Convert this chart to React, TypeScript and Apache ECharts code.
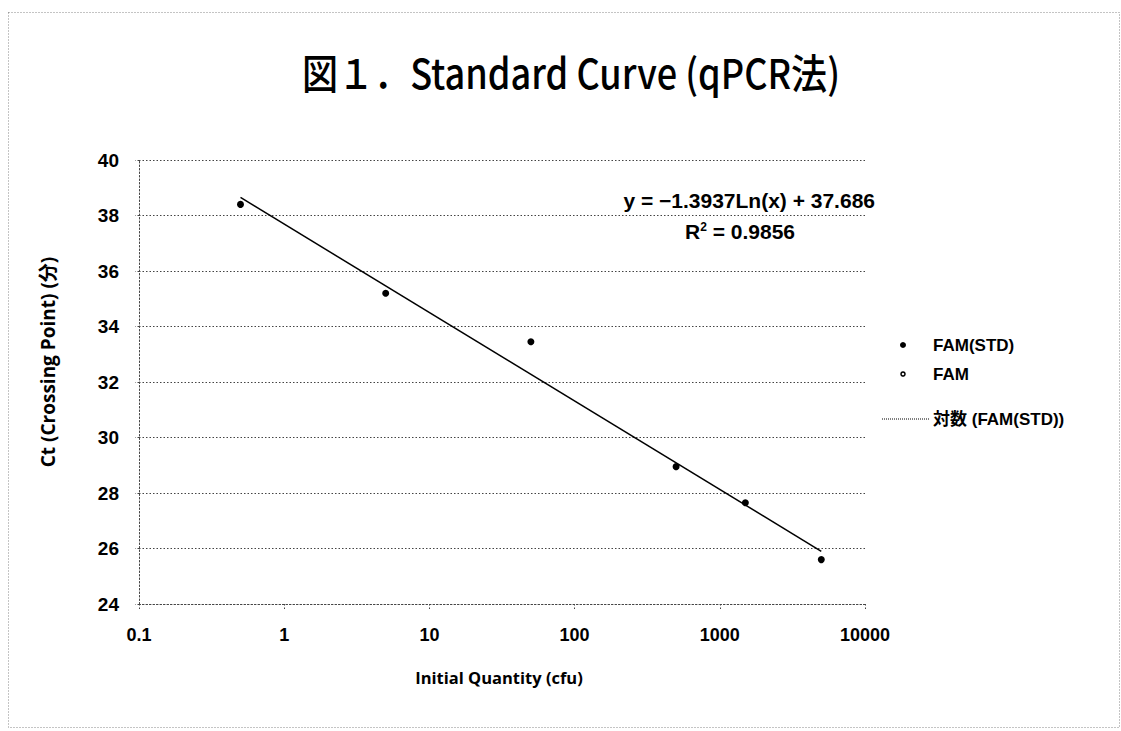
import React, { useEffect, useRef } from "react";
import * as echarts from "echarts";

const xTicks = [0.1, 1, 10, 100, 1000, 10000];
const yTicks = [24, 26, 28, 30, 32, 34, 36, 38, 40];
const stdQuantity = [0.5, 5, 50, 500, 1500, 5000];
const stdCt = [38.4, 35.2, 33.45, 28.95, 27.65, 25.6];
const famQuantity: number[] = [];
const famCt: number[] = [];
const trendQuantity = [0.5, 5000];
const trendCt = [38.65, 25.9];
const titleText = "図１．Standard Curve (qPCR法)";
const xName = "Initial Quantity (cfu)";
const yName = "Ct (Crossing Point) (分)";
const equationText = "y = −1.3937Ln(x) + 37.686";
const r2Value = "0.9856";

const labelFont = "'Liberation Sans', Arial, sans-serif";
const nameFont = "'Open Sans', 'Noto Sans CJK JP', sans-serif";

export default function App() {
  const ref = useRef<HTMLDivElement>(null);
  useEffect(() => {
    if (!ref.current) return;
    const chart = echarts.init(ref.current, null, { renderer: "svg" });
    const dotted = { color: "#444", type: [1.5, 2] as any, width: 1 };
    chart.setOption({
      animation: false,
      backgroundColor: "#fff",
      grid: { left: 139, top: 160, right: 256, bottom: 127, containLabel: false },
      xAxis: {
        type: "log",
        logBase: 10,
        min: xTicks[0],
        max: xTicks[xTicks.length - 1],
        axisLine: { show: true, lineStyle: dotted },
        axisTick: { show: true, length: 6, inside: false, lineStyle: dotted },
        minorTick: { show: false },
        splitLine: { show: false },
        axisLabel: {
          margin: 22,
          fontFamily: labelFont,
          fontWeight: "bold",
          fontSize: 18,
          color: "#000",
          formatter: (v: number) => {
            const found = xTicks.find((t) => Math.abs(t - v) / t < 1e-6);
            return found !== undefined ? String(found) : "";
          },
        },
      },
      yAxis: {
        type: "value",
        min: yTicks[0],
        max: yTicks[yTicks.length - 1],
        interval: 2,
        axisLine: { show: true, lineStyle: dotted },
        axisTick: { show: true, length: 4, lineStyle: dotted },
        splitLine: { show: true, lineStyle: dotted },
        axisLabel: {
          margin: 20,
          fontFamily: labelFont,
          fontWeight: "bold",
          fontSize: 19,
          color: "#000",
        },
      },
      series: [
        {
          name: "FAM(STD)",
          type: "scatter",
          symbol: "circle",
          symbolSize: 7,
          itemStyle: { color: "#000", opacity: 1 },
          data: stdQuantity.map((q, i) => [q, stdCt[i]]),
          z: 3,
        },
        {
          name: "FAM",
          type: "scatter",
          symbol: "emptyCircle",
          symbolSize: 5,
          itemStyle: { color: "#000", opacity: 1 },
          data: famQuantity.map((q, i) => [q, famCt[i]]),
        },
        {
          name: "対数 (FAM(STD))",
          type: "line",
          showSymbol: false,
          symbol: "none",
          lineStyle: { color: "#000", width: 1.5 },
          data: trendQuantity.map((q, i) => [q, trendCt[i]]),
          z: 2,
        },
      ],
      graphic: [
        {
          type: "rect",
          shape: { x: 8.5, y: 12.5, width: 1111, height: 715 },
          style: { fill: "none", stroke: "#888", lineWidth: 1, lineDash: [1, 2] },
          silent: true,
          z: -1,
        },
        {
          type: "text",
          x: 571,
          y: 71,
          scaleX: 0.88,
          style: {
            text: titleText,
            align: "center",
            verticalAlign: "middle",
            font: `500 41px 'Noto Sans CJK JP', sans-serif`,
            fill: "#000",
          },
        },
        {
          type: "text",
          x: 499,
          y: 677,
          style: {
            text: xName,
            align: "center",
            verticalAlign: "middle",
            font: `bold 16.5px ${nameFont}`,
            fill: "#000",
          },
        },
        {
          type: "text",
          x: 48,
          y: 362,
          rotation: Math.PI / 2,
          style: {
            text: yName,
            align: "center",
            verticalAlign: "middle",
            font: `bold 19px ${nameFont}`,
            fill: "#000",
          },
        },
        {
          type: "text",
          x: 875,
          y: 200,
          style: {
            text: equationText,
            align: "right",
            verticalAlign: "middle",
            font: `bold 21px ${labelFont}`,
            fill: "#000",
          },
        },
        {
          type: "text",
          x: 740,
          y: 231,
          style: {
            text: "{a|R}{s|2}{a| = " + r2Value + "}",
            align: "center",
            verticalAlign: "middle",
            rich: {
              a: { font: `bold 21px ${labelFont}`, fill: "#000" },
              s: { font: `bold 12px ${labelFont}`, fill: "#000", verticalAlign: "top", padding: [0, 0, 9, 0] },
            },
          },
        },
        { type: "circle", shape: { cx: 903, cy: 345, r: 3 }, style: { fill: "#000" } },
        {
          type: "text",
          x: 933,
          y: 345,
          style: { text: "FAM(STD)", verticalAlign: "middle", font: `bold 17px ${labelFont}`, fill: "#000" },
        },
        { type: "circle", shape: { cx: 903, cy: 374, r: 2 }, style: { fill: "#fff", stroke: "#000", lineWidth: 1.5 } },
        {
          type: "text",
          x: 933,
          y: 374,
          style: { text: "FAM", verticalAlign: "middle", font: `bold 17px ${labelFont}`, fill: "#000" },
        },
        { type: "line", shape: { x1: 882, y1: 419, x2: 929, y2: 419 }, style: { stroke: "#000", lineWidth: 1, lineDash: [1, 1] } },
        {
          type: "text",
          x: 933,
          y: 419,
          style: {
            text: "対数 (FAM(STD))",
            verticalAlign: "middle",
            font: `bold 17px 'Liberation Sans', 'Noto Sans CJK JP', sans-serif`,
            fill: "#000",
          },
        },
      ],
    });
    return () => chart.dispose();
  }, []);
  return <div ref={ref} style={{ width: 1121, height: 731, position: "absolute", left: 0, top: 0 }} />;
}
